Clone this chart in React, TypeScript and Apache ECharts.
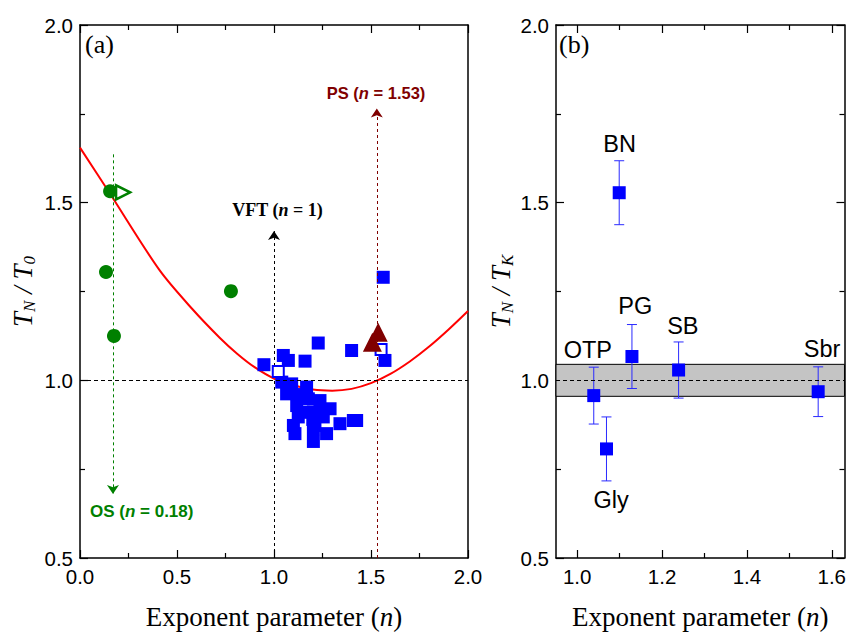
import React, { useEffect, useRef } from "react";
import * as echarts from "echarts";

// ---------- Panel (a) data ----------
const curveX = [0, 0.155, 0.41, 0.58, 0.72, 0.81, 0.9, 1.0, 1.1, 1.2, 1.3, 1.4, 1.5, 1.6, 1.7, 1.8, 1.9, 2.0];
const curveY = [1.655, 1.525, 1.31, 1.2, 1.12, 1.075, 1.037, 1.005, 0.986, 0.974, 0.971, 0.976, 0.992, 1.018, 1.053, 1.095, 1.143, 1.195];

const blueX = [0.948, 1.048, 1.074, 1.228, 1.16, 1.4, 1.572, 1.563, 1.04, 1.091, 1.065, 1.168, 1.177, 1.117, 1.237, 1.289, 1.125, 1.203, 1.254, 1.409, 1.34, 1.1, 1.211, 1.271, 1.108, 1.203, 1.203, 1.426, 1.13, 1.2, 1.15, 1.25, 1.08];
const blueY = [1.044, 1.07, 1.056, 1.105, 1.054, 1.084, 1.056, 1.29, 0.995, 0.99, 0.962, 0.981, 0.948, 0.929, 0.943, 0.92, 0.897, 0.911, 0.897, 0.887, 0.878, 0.873, 0.873, 0.85, 0.85, 0.864, 0.828, 0.887, 0.96, 0.89, 0.91, 0.91, 0.98];

const openX = [1.022, 1.552];
const openY = [1.025, 1.087];

const greenX = [0.155, 0.134, 0.175, 0.778];
const greenY = [1.532, 1.305, 1.125, 1.251];

const greenTriX = [0.222];
const greenTriY = [1.529];

const redTriX = [1.507, 1.537];
const redTriY = [1.107, 1.135];

// ---------- Panel (b) data ----------
const bNames = ["OTP", "Gly", "BN", "PG", "SB", "Sbr"];
const bX = [1.039, 1.069, 1.099, 1.129, 1.239, 1.568];
const bY = [0.957, 0.807, 1.528, 1.067, 1.029, 0.968];
const bErr = [0.08, 0.09, 0.09, 0.09, 0.079, 0.07];
const bLabelX = [1.025, 1.08, 1.1, 1.137, 1.249, 1.577];
const bLabelY = [1.084, 0.662, 1.664, 1.209, 1.153, 1.089];

const bandLow = 0.955;
const bandHigh = 1.045;

const xMajorB = [1.0, 1.2, 1.4, 1.6];
const xMinorB = [1.1, 1.3, 1.5];

const SANS = "Liberation Sans";
const SERIF = "Liberation Serif";

export default function App() {
  const ref = useRef<HTMLDivElement>(null);

  useEffect(() => {
    const chart = echarts.init(ref.current!, null, { renderer: "svg" });

    const axisLine = { show: true, onZero: false, lineStyle: { color: "#000", width: 1.5 } };
    const tickStyle = { color: "#000", width: 1.2 };
    const tickLabel = {
      fontFamily: SANS,
      fontSize: 20.5,
      color: "#000",
      formatter: (v: number) => v.toFixed(1),
    };

    const xName = "{a|Exponent parameter (}{i|n}{a|)}";
    const xNameStyle = {
      rich: {
        a: { fontFamily: SERIF, fontSize: 27, color: "#000" },
        i: { fontFamily: SERIF, fontSize: 27, color: "#000", fontStyle: "italic" },
      },
    };
    const yNameStyle = {
      rich: {
        t: { fontFamily: SERIF, fontSize: 27, color: "#000", fontStyle: "italic", lineHeight: 30 },
        s: { fontFamily: SERIF, fontSize: 17, color: "#000", fontStyle: "italic", lineHeight: 16, verticalAlign: "bottom" },
      },
    };

    const annot = (name: string, x: number, y: number, color: string, font: string, size: number, text: string) => ({
      name,
      value: [x, y],
      label: {
        show: true,
        position: "inside",
        formatter: text,
        color,
        opacity: 1,
        textBorderWidth: 0,
        rich: {
          b: { fontFamily: font, fontSize: size, fontWeight: "bold", color, textBorderWidth: 0 },
          i: { fontFamily: font, fontSize: size, fontWeight: "bold", fontStyle: "italic", color, textBorderWidth: 0 },
        },
      },
    });

    const option: any = {
      animation: false,
      backgroundColor: "#fff",
      grid: [
        { left: 80, top: 25, width: 388, height: 534 },
        { left: 556, top: 25, width: 292, height: 534 },
      ],
      graphic: [
        { type: "text", left: 85, top: 31, style: { text: "(a)", font: `26px "${SERIF}"`, fill: "#000" } },
        { type: "text", left: 559, top: 31, style: { text: "(b)", font: `26px "${SERIF}"`, fill: "#000" } },
      ],
      xAxis: [
        {
          gridIndex: 0, type: "value", position: "bottom", min: 0, max: 2, interval: 0.5,
          axisLine, splitLine: { show: false },
          axisTick: { show: true, inside: true, length: 8, lineStyle: tickStyle },
          minorTick: { show: true, splitNumber: 2, length: 5, lineStyle: tickStyle },
          axisLabel: { ...tickLabel, margin: 8 },
          name: xName, nameLocation: "middle", nameGap: 45, nameTextStyle: xNameStyle,
        },
        {
          gridIndex: 0, type: "value", position: "top", min: 0, max: 2, interval: 0.5,
          axisLine, splitLine: { show: false },
          axisTick: { show: true, inside: true, length: 8, lineStyle: tickStyle },
          minorTick: { show: true, splitNumber: 2, length: 5, lineStyle: tickStyle },
          axisLabel: { show: false },
        },
        {
          gridIndex: 1, type: "value", position: "bottom", min: 0.95, max: 1.63,
          axisLine, splitLine: { show: false },
          axisTick: { show: true, inside: true, length: 8, lineStyle: tickStyle, customValues: xMajorB },
          axisLabel: { ...tickLabel, margin: 8, customValues: xMajorB },
          name: xName, nameLocation: "middle", nameGap: 45, nameTextStyle: xNameStyle,
        },
        {
          gridIndex: 1, type: "value", position: "bottom", min: 0.95, max: 1.63,
          axisLine: { show: false }, splitLine: { show: false },
          axisTick: { show: true, inside: true, length: 5, lineStyle: tickStyle, customValues: xMinorB },
          axisLabel: { show: false },
        },
        {
          gridIndex: 1, type: "value", position: "top", min: 0.95, max: 1.63,
          axisLine, splitLine: { show: false },
          axisTick: { show: true, inside: true, length: 8, lineStyle: tickStyle, customValues: xMajorB },
          axisLabel: { show: false },
        },
        {
          gridIndex: 1, type: "value", position: "top", min: 0.95, max: 1.63,
          axisLine: { show: false }, splitLine: { show: false },
          axisTick: { show: true, inside: true, length: 5, lineStyle: tickStyle, customValues: xMinorB },
          axisLabel: { show: false },
        },
      ],
      yAxis: [
        {
          gridIndex: 0, type: "value", position: "left", min: 0.5, max: 2, interval: 0.5,
          axisLine, splitLine: { show: false },
          axisTick: { show: true, inside: true, length: 8, lineStyle: tickStyle },
          minorTick: { show: true, splitNumber: 2, length: 5, lineStyle: tickStyle },
          axisLabel: { ...tickLabel, margin: 7 },
          name: "{t|T}{s|N}{t| / T}{s|0}", nameLocation: "middle", nameGap: 42, nameTextStyle: yNameStyle,
        },
        {
          gridIndex: 0, type: "value", position: "right", min: 0.5, max: 2, interval: 0.5,
          axisLine, splitLine: { show: false }, axisTick: { show: false }, axisLabel: { show: false },
        },
        {
          gridIndex: 1, type: "value", position: "left", min: 0.5, max: 2, interval: 0.5,
          axisLine, splitLine: { show: false },
          axisTick: { show: true, inside: true, length: 8, lineStyle: tickStyle },
          minorTick: { show: true, splitNumber: 2, length: 5, lineStyle: tickStyle },
          axisLabel: { ...tickLabel, margin: 7 },
          name: "{t|T}{s|N}{t| / T}{s|K}", nameLocation: "middle", nameGap: 40, nameTextStyle: yNameStyle,
        },
        {
          gridIndex: 1, type: "value", position: "right", min: 0.5, max: 2, interval: 0.5,
          axisLine, splitLine: { show: false },
          axisTick: { show: true, inside: true, length: 8, lineStyle: tickStyle },
          minorTick: { show: true, splitNumber: 2, length: 5, lineStyle: tickStyle },
          axisLabel: { show: false },
        },
      ],
      series: [
        // ---- panel (a) ----
        {
          type: "scatter", xAxisIndex: 0, yAxisIndex: 0, symbolSize: 0, data: [],
          markLine: {
            silent: true, symbol: "none", label: { show: false },
            lineStyle: { color: "#000", width: 1, type: [4, 3] },
            data: [{ yAxis: 1 }],
          },
        },
        {
          type: "line", xAxisIndex: 0, yAxisIndex: 0, smooth: 0.3, showSymbol: false,
          lineStyle: { color: "#ff0000", width: 2 },
          data: curveX.map((x, i) => [x, curveY[i]]),
          z: 3,
        },
        {
          type: "scatter", xAxisIndex: 0, yAxisIndex: 0, symbol: "rect", symbolSize: 13,
          itemStyle: { color: "#0000ff", opacity: 1 },
          data: blueX.map((x, i) => [x, blueY[i]]), z: 4,
        },
        {
          type: "scatter", xAxisIndex: 0, yAxisIndex: 0, symbol: "rect", symbolSize: 11,
          itemStyle: { color: "#ffffff", borderColor: "#0000ff", borderWidth: 2, opacity: 1 },
          data: openX.map((x, i) => [x, openY[i]]), z: 5,
        },
        {
          type: "scatter", xAxisIndex: 0, yAxisIndex: 0, symbol: "circle", symbolSize: 14,
          itemStyle: { color: "#008000", opacity: 1 },
          data: greenX.map((x, i) => [x, greenY[i]]), z: 4,
        },
        {
          type: "scatter", xAxisIndex: 0, yAxisIndex: 0, symbol: "triangle", symbolSize: 14, symbolRotate: -90,
          itemStyle: { color: "#ffffff", borderColor: "#008000", borderWidth: 2.5, opacity: 1 },
          data: greenTriX.map((x, i) => [x, greenTriY[i]]), z: 4,
        },
        {
          type: "scatter", xAxisIndex: 0, yAxisIndex: 0, symbol: "triangle", symbolSize: 19,
          itemStyle: { color: "#800000", opacity: 1 },
          data: redTriX.map((x, i) => [x, redTriY[i]]), z: 5,
        },
        {
          type: "scatter", xAxisIndex: 0, yAxisIndex: 0, symbolSize: 0, z: 6,
          itemStyle: { opacity: 1 },
          data: [
            annot("OS", 0.318, 0.63, "#008000", SANS, 17, "{b|OS (}{i|n}{b| = 0.18)}"),
            annot("VFT", 1.018, 1.48, "#000000", SERIF, 18, "{b|VFT (}{i|n}{b| = 1)}"),
            annot("PS", 1.526, 1.81, "#800000", SANS, 16.5, "{b|PS (}{i|n}{b| = 1.53)}"),
          ],
          markLine: {
            silent: true, symbol: ["none", "arrow"], symbolSize: 9, label: { show: false },
            data: [
              [
                { coord: [0.17, 1.636], lineStyle: { color: "#008000", width: 1, type: [3, 3] } },
                { coord: [0.17, 0.68] },
              ],
              [
                { coord: [1.0, 0.5], lineStyle: { color: "#000000", width: 1, type: [3, 3] } },
                { coord: [1.0, 1.42] },
              ],
              [
                { coord: [1.53, 0.5], lineStyle: { color: "#800000", width: 1, type: [3, 3] } },
                { coord: [1.53, 1.765] },
              ],
            ],
          },
        },
        // ---- panel (b) ----
        {
          type: "custom", xAxisIndex: 2, yAxisIndex: 2, z: 3,
          data: bX.map((x, i) => [x, bY[i] - bErr[i], bY[i] + bErr[i]]),
          encode: { x: 0, y: [1, 2] },
          renderItem: (params: any, api: any) => {
            const lo = api.coord([api.value(0), api.value(1)]);
            const hi = api.coord([api.value(0), api.value(2)]);
            const w = 5;
            const style = { stroke: "#2a2aff", lineWidth: 1 };
            return {
              type: "group",
              children: [
                { type: "line", shape: { x1: lo[0], y1: lo[1], x2: hi[0], y2: hi[1] }, style },
                { type: "line", shape: { x1: lo[0] - w, y1: lo[1], x2: lo[0] + w, y2: lo[1] }, style },
                { type: "line", shape: { x1: hi[0] - w, y1: hi[1], x2: hi[0] + w, y2: hi[1] }, style },
              ],
            };
          },
          markArea: {
            silent: true,
            itemStyle: { color: "#c4c4c4", borderColor: "#000", borderWidth: 1, opacity: 1 },
            data: [[{ yAxis: bandLow }, { yAxis: bandHigh }]],
          },
        },
        {
          type: "scatter", xAxisIndex: 2, yAxisIndex: 2, symbol: "rect", symbolSize: 13, z: 4,
          itemStyle: { color: "#0000ff", opacity: 1 },
          data: bX.map((x, i) => [x, bY[i]]),
          markLine: {
            silent: true, symbol: "none", label: { show: false },
            lineStyle: { color: "#000", width: 1, type: [4, 3] },
            data: [{ yAxis: 1 }],
          },
        },
        {
          type: "scatter", xAxisIndex: 2, yAxisIndex: 2, symbolSize: 0, z: 6,
          itemStyle: { opacity: 1 },
          data: bNames.map((n, i) => ({ name: n, value: [bLabelX[i], bLabelY[i]] })),
          label: {
            show: true, position: "inside", formatter: "{b}",
            fontFamily: SANS, fontSize: 23.5, color: "#000", opacity: 1, textBorderWidth: 0,
          },
        },
      ],
    };

    chart.setOption(option);
    return () => chart.dispose();
  }, []);

  return (
    <div
      ref={ref}
      style={{ position: "fixed", left: 0, top: 0, width: 849, height: 635, background: "#fff" }}
    />
  );
}
